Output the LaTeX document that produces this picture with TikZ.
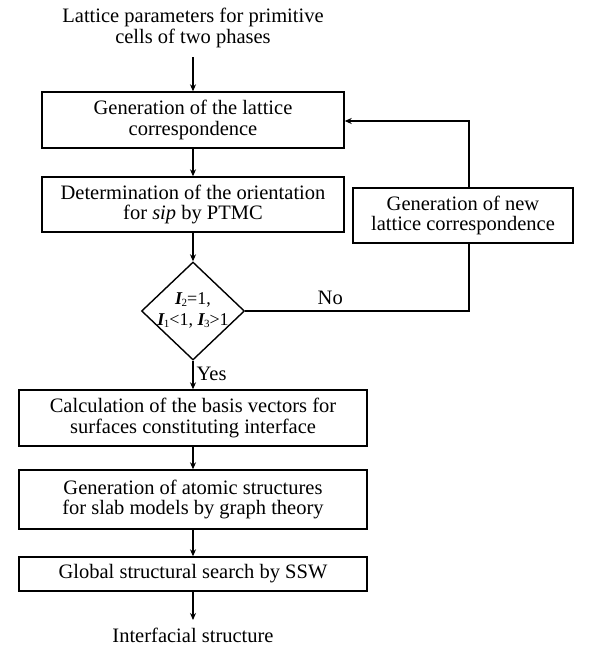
\documentclass[tikz,border=0pt]{standalone}
\usepackage{fontspec}
\setmainfont{Liberation Serif}
\usetikzlibrary{arrows.meta,shapes.geometric}
\newcommand{\bI}[1]{{\bfseries\itshape I}\kern-0.5pt{\fontsize{11}{11}\selectfont\raisebox{-2.5pt}{#1}}}
\begin{document}
\begin{tikzpicture}[x=1pt,y=-1pt,
  every node/.style={font=\fontsize{20.5}{20.5}\selectfont, align=center, inner sep=0pt},
  flowbox/.style={draw, line width=1.4pt, minimum height=#1},
  conn/.style={line width=1.4pt, -{Stealth[length=7pt,width=6pt]}},
  plain/.style={line width=1.4pt},
  condtext/.style={font=\fontsize{18}{21}\selectfont}]
\useasboundingbox (0,0) rectangle (595,646);
\node (start) at (193,28) {Lattice parameters for primitive\\cells of two phases};
\node[flowbox=56pt, minimum width=302pt] (b1) at (193,120) {Generation of the lattice\\correspondence};
\node[flowbox=55pt, minimum width=302pt] (b2) at (193,204.5) {Determination of the orientation\\for \textit{sip} by PTMC};
\node[draw, diamond, line width=1.4pt, minimum width=103pt, minimum height=98pt, aspect=1.05] (d) at (193,311) {};
\node[condtext] (dt) at (193,310) {\bI{2}=1,\\\bI{1}<1, \bI{3}>1};
\node[flowbox=55pt, minimum width=220pt] (r) at (463,215.5) {Generation of new\\lattice correspondence};
\node[flowbox=56pt, minimum width=348pt] (b3) at (193,418) {Calculation of the basis vectors for\\surfaces constituting interface};
\node[flowbox=59pt, minimum width=348pt] (b4) at (193,499.5) {Generation of atomic structures\\for slab models by graph theory};
\node[flowbox=34pt, minimum width=348pt] (b5) at (193,574) {Global structural search by SSW};
\node (end) at (193,635) {Interfacial structure};
\coordinate (e1) at (193,620);
\coordinate (rb) at (469,311);
\coordinate (rt) at (469,121);
\draw[conn] (start.south |- 0,57) -- (b1);
\draw[conn] (b1) -- (b2);
\draw[conn] (b2) -- (d);
\draw[conn] (d) -- node[right=3pt, pos=0.45] {Yes} (b3);
\draw[conn] (b3) -- (b4);
\draw[conn] (b4) -- (b5);
\draw[conn] (b5) -- (e1);
\draw[plain] (d.east) -- node[above=6pt, pos=0.38] {No} (rb) -- (rb |- r.south);
\draw[conn] (rt |- r.north) -- (rt) -- (b1.east |- rt);
\end{tikzpicture}
\end{document}
